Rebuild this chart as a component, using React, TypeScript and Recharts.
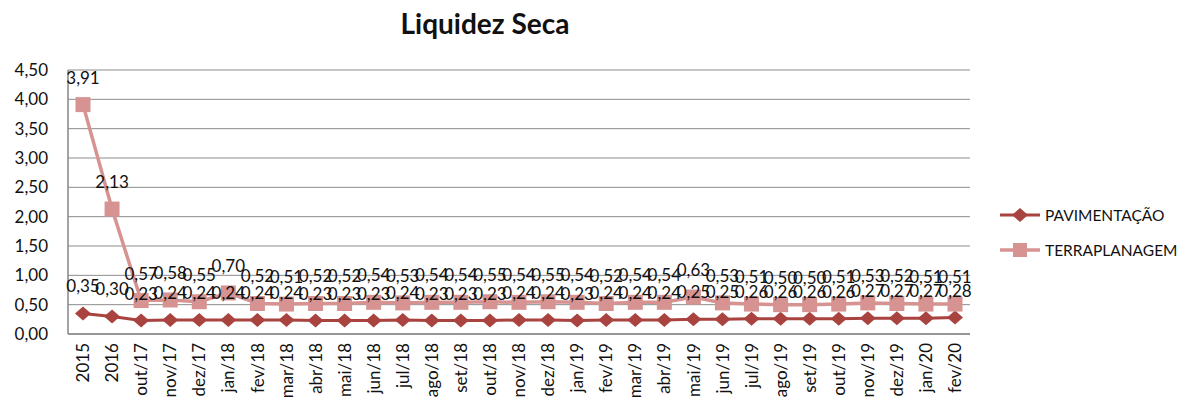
import { LineChart, Line, XAxis, YAxis, CartesianGrid, LabelList } from 'recharts'

const categories = [
  '2015', '2016', 'out/17', 'nov/17', 'dez/17', 'jan/18', 'fev/18', 'mar/18', 'abr/18', 'mai/18',
  'jun/18', 'jul/18', 'ago/18', 'set/18', 'out/18', 'nov/18', 'dez/18', 'jan/19', 'fev/19', 'mar/19',
  'abr/19', 'mai/19', 'jun/19', 'jul/19', 'ago/19', 'set/19', 'out/19', 'nov/19', 'dez/19', 'jan/20', 'fev/20',
]

const pavimentacao = [
  0.35, 0.30, 0.23, 0.24, 0.24, 0.24, 0.24, 0.24, 0.23, 0.23,
  0.23, 0.24, 0.23, 0.23, 0.23, 0.24, 0.24, 0.23, 0.24, 0.24,
  0.24, 0.25, 0.25, 0.26, 0.26, 0.26, 0.26, 0.27, 0.27, 0.27, 0.28,
]

const terraplanagem = [
  3.91, 2.13, 0.57, 0.58, 0.55, 0.70, 0.52, 0.51, 0.52, 0.52,
  0.54, 0.53, 0.54, 0.54, 0.55, 0.54, 0.55, 0.54, 0.52, 0.54,
  0.54, 0.63, 0.53, 0.51, 0.50, 0.50, 0.51, 0.53, 0.52, 0.51, 0.51,
]

const yTicks = [0, 0.5, 1, 1.5, 2, 2.5, 3, 3.5, 4, 4.5]

const PAV = '#A9433F'
const TER = '#D69391'
const FONT = 'Lato, "Noto Sans", sans-serif'

const data = categories.map((c, i) => ({
  cat: c,
  pav: pavimentacao[i],
  ter: terraplanagem[i],
}))

const fmt = (v: any) => (typeof v === 'number' ? v.toFixed(2).replace('.', ',') : v)

const Diamond = (props: any) => {
  const { cx, cy, index } = props
  if (cx == null || cy == null) return null
  return <path key={`d${index}`} d={`M${cx},${cy - 7} L${cx + 8},${cy} L${cx},${cy + 7} L${cx - 8},${cy} Z`} fill={PAV} />
}

const Square = (props: any) => {
  const { cx, cy, index } = props
  if (cx == null || cy == null) return null
  return <rect key={`s${index}`} x={cx - 7.5} y={cy - 7.5} width={15} height={15} fill={TER} />
}

// vertical month label, centred on the category
const MonthTick = (props: any) => {
  const { x, y, payload } = props
  return (
    <text
      x={x}
      y={y}
      dy="0.36em"
      transform={`rotate(-90 ${x} ${y})`}
      textAnchor="end"
      fontSize={17}
      fill="#111"
      fontFamily={FONT}
    >
      {payload.value}
    </text>
  )
}

const LegendBox = () => (
  <svg width={200} height={70} style={{ fontFamily: FONT, display: 'block' }}>
    <line x1={5} y1={15} x2={45} y2={15} stroke={PAV} strokeWidth={3} />
    <path d="M25,8 L33,15 L25,22 L17,15 Z" fill={PAV} />
    <text x={50} y={20.5} fontSize={15.5} fill="#111">PAVIMENTAÇÃO</text>
    <line x1={5} y1={50} x2={45} y2={50} stroke={TER} strokeWidth={3.5} />
    <rect x={18} y={43} width={14} height={14} fill={TER} />
    <text x={50} y={55.5} fontSize={15.5} fill="#111">TERRAPLANAGEM</text>
  </svg>
)

export default function App() {
  return (
    <div style={{ position: 'absolute', left: 0, top: 0, width: 1202, height: 408, background: '#fff' }}>
      <div style={{
        position: 'absolute', left: 0, width: 970, top: 6, textAlign: 'center',
        fontFamily: FONT, fontWeight: 700, fontSize: 28, color: '#111',
      }}>
        Liquidez Seca
      </div>
      <LineChart width={1202} height={408} data={data} margin={{ top: 70, right: 232, left: 0, bottom: 0 }}>
        <CartesianGrid vertical={false} stroke="#8c8c8c" />
        <XAxis
          dataKey="cat"
          interval={0}
          height={74}
          padding={{ left: 15, right: 15 }}
          stroke="#868686"
          strokeWidth={1.5}
          tickLine={false}
          tickSize={0}
          tickMargin={9}
          tick={<MonthTick />}
        />
        <YAxis
          width={68}
          domain={[0, 4.5]}
          ticks={yTicks}
          interval={0}
          stroke="#868686"
          strokeWidth={1.5}
          tickLine={false}
          tickSize={0}
          tickMargin={20}
          tickFormatter={fmt}
          tick={{ fontSize: 17, fill: '#111', fontFamily: FONT }}
        />
        <Line
          dataKey="pav"
          name="PAVIMENTAÇÃO"
          stroke={PAV}
          strokeWidth={3}
          dot={Diamond}
          activeDot={false}
          isAnimationActive={false}
        >
          <LabelList dataKey="pav" position="top" offset={21} formatter={fmt} fontSize={17} fill="#111" fontFamily={FONT} />
        </Line>
        <Line
          dataKey="ter"
          name="TERRAPLANAGEM"
          stroke={TER}
          strokeWidth={3.5}
          dot={Square}
          activeDot={false}
          isAnimationActive={false}
        >
          <LabelList dataKey="ter" position="top" offset={21} formatter={fmt} fontSize={17} fill="#111" fontFamily={FONT} />
        </Line>
      </LineChart>
      <div style={{ position: 'absolute', left: 995, top: 200 }}>
        <LegendBox />
      </div>
    </div>
  )
}
